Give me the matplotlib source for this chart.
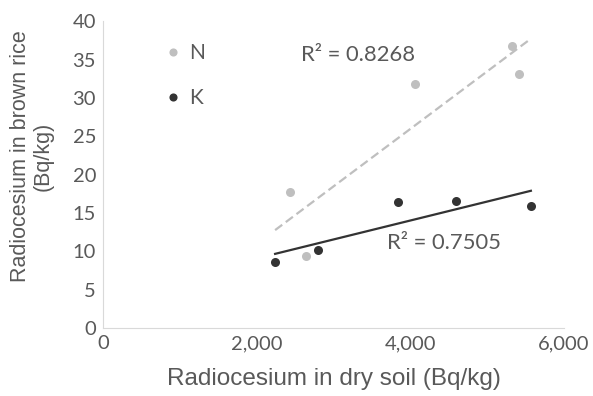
import numpy as np
import matplotlib.pyplot as plt
from matplotlib.ticker import FuncFormatter

plt.rcParams['font.family'] = ['Lato', 'DejaVu Sans']

# soil vs brown rice radiocesium (Bq/kg)
n_soil = [2435, 2643, 4062, 5321, 5408]
n_rice = [17.7, 9.4, 31.8, 36.8, 33.1]
k_soil = [2240, 2795, 3845, 4592, 5569]
k_rice = [8.6, 10.2, 16.4, 16.6, 15.9]

n_col = '#bfbfbf'
k_col = '#333333'
txt_col = '#595959'

fig = plt.figure(figsize=(5.93, 3.96), dpi=100)
ax = fig.add_axes([0.1737, 0.1717, 0.7774, 0.7748])

ax.plot(n_soil, n_rice, 'o', color=n_col, ms=6.5, mec='none', label='N', zorder=3)
ax.plot(k_soil, k_rice, 'o', color=k_col, ms=6.5, mec='none', label='K', zorder=3)

# linear trendlines over the whole soil range
x_all = n_soil + k_soil
xs = np.array([min(x_all), max(x_all)])
for xv, yv, col, ls in [(n_soil, n_rice, n_col, '--'), (k_soil, k_rice, k_col, '-')]:
    p = np.polyfit(xv, yv, 1)
    ax.plot(xs, np.polyval(p, xs), ls=ls, color=col, lw=1.6, dashes=(4, 2) if ls == '--' else (None, None), zorder=2)

ax.text(0.43, 0.89, 'R² = 0.8268', transform=ax.transAxes, fontsize=15.8,
        color=txt_col, va='center', ha='left')
ax.text(0.615, 0.278, 'R² = 0.7505', transform=ax.transAxes, fontsize=15.8,
        color=txt_col, va='center', ha='left')

ax.set_xlim(0, 6000)
ax.set_ylim(0, 40)
ax.set_xticks([0, 2000, 4000, 6000])
ax.set_yticks(range(0, 41, 5))
ax.xaxis.set_major_formatter(FuncFormatter(lambda v, pos: '{:,.0f}'.format(v)))
ax.tick_params(length=0, labelsize=14.5, colors=txt_col, pad=5)
for s in ['top', 'right']:
    ax.spines[s].set_visible(False)
for s in ['left', 'bottom']:
    ax.spines[s].set_color('#d9d9d9')

ax.set_xlabel('Radiocesium in dry soil (Bq/kg)', fontsize=17.5, color=txt_col,
              family=['Liberation Sans'])
ax.xaxis.set_label_coords(0.5, -0.13)
ax.set_ylabel('Radiocesium in brown rice\n(Bq/kg)', fontsize=15.5, color=txt_col,
              family=['Liberation Sans'], linespacing=1.1)
ax.yaxis.set_label_coords(-0.108, 0.56)

leg = ax.legend(loc='upper left', bbox_to_anchor=(0.085, 0.99), frameon=False,
                fontsize=15, markerscale=0.9, handletextpad=0.15,
                labelspacing=1.2, handlelength=1.2, labelcolor=txt_col)

fig.savefig('out.png', dpi=100)
